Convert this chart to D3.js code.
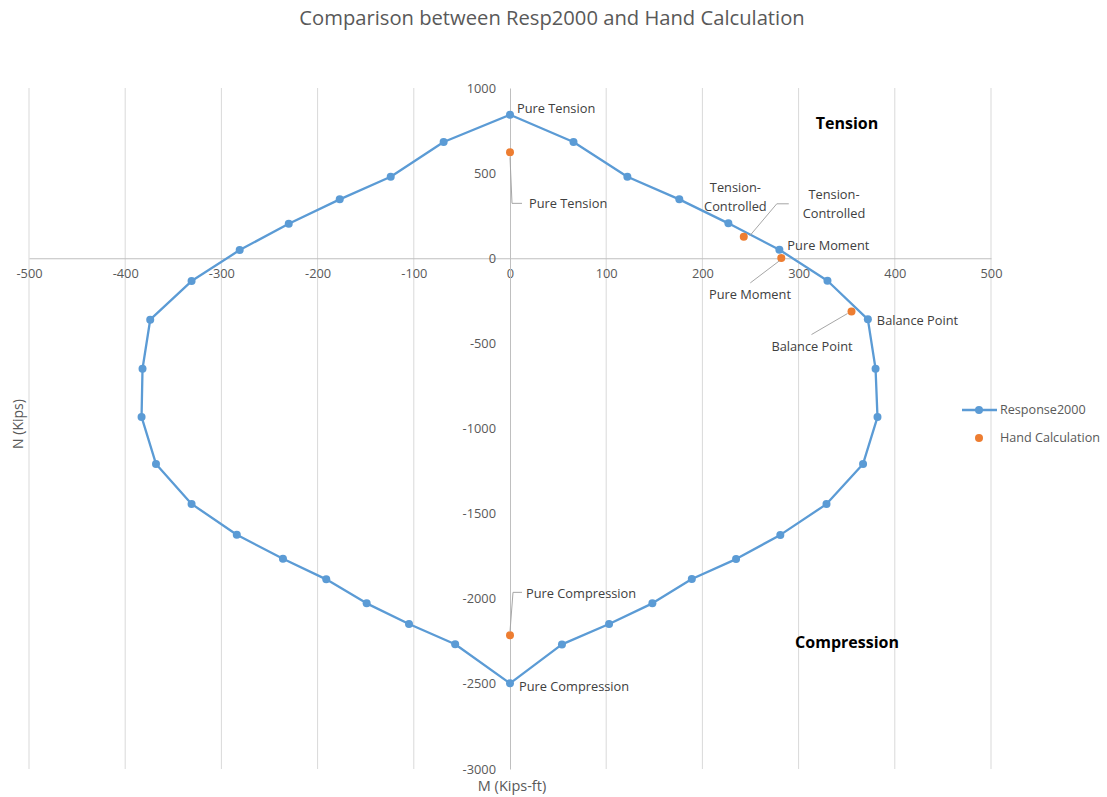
<!DOCTYPE html>
<html>
<head>
<meta charset="utf-8">
<script src="https://cdn.jsdelivr.net/npm/d3@7/dist/d3.min.js"></script>
<style>
  html, body { margin: 0; padding: 0; background: #ffffff; }
  svg { display: block; font-family: "Open Sans", "Noto Sans", sans-serif; }
</style>
</head>
<body>
<svg id="chart" width="1107" height="797"></svg>
<script>
// ---------------- DATA ----------------
const chartTitle = "Comparison between Resp2000 and Hand Calculation";
const xAxisTitle = "M (Kips-ft)";
const yAxisTitle = "N (Kips)";
const seriesNames = ["Response2000", "Hand Calculation"];

const xTicks = [-500, -400, -300, -200, -100, 0, 100, 200, 300, 400, 500];
const yTicks = [1000, 500, 0, -500, -1000, -1500, -2000, -2500, -3000];

// Response2000 interaction diagram (M, N), traced clockwise from pure tension
const respM = [0, 66, 122, 176, 227, 280, 330, 372, 380, 382, 367, 329, 281, 235, 189, 148, 103, 54, 0,
               -57, -105, -149, -191, -236, -284, -331, -368, -383, -382, -374, -331, -281, -230, -177, -124, -69, 0];
const respN = [843, 683, 479, 346, 205, 50, -132, -359, -649, -933, -1208, -1444, -1625, -1767, -1884, -2027, -2148, -2268, -2497,
               -2267, -2148, -2027, -1886, -1765, -1624, -1443, -1208, -932, -649, -361, -134, 48, 203, 346, 479, 683, 843];

// Hand calculation points
const handM = [0, 243, 282, 355, 0];
const handN = [622, 126, 2, -313, -2215];

// Data-label texts
const respLabelIndex = [0, 4, 5, 7, 18];
const respLabelText = [["Pure Tension"], ["Tension-", "Controlled"], ["Pure Moment"], ["Balance Point"], ["Pure Compression"]];
const handLabelText = [["Pure Tension"], ["Tension-", "Controlled"], ["Pure Moment"], ["Balance Point"], ["Pure Compression"]];

const regionLabels = ["Tension", "Compression"];

// ---------------- LAYOUT ----------------
const svg = d3.select("#chart");
const x = d3.scaleLinear().domain([-500, 500]).range([29, 991]);
const y = d3.scaleLinear().domain([-3000, 1000]).range([769, 88]);

const gridColor = "#d9d9d9";
const axisColor = "#bfbfbf";
const tickColor = "#595959";
const labelColor = "#404040";
const blue = "#5b9bd5";
const orange = "#ed7d31";
const fs = 12.8;

// Title
svg.append("text")
  .attr("x", 552).attr("y", 25)
  .attr("text-anchor", "middle")
  .attr("font-size", 20.2)
  .attr("fill", "#595959")
  .text(chartTitle);

// Vertical gridlines
svg.append("g").selectAll("line")
  .data(xTicks.filter(d => d !== 0))
  .join("line")
  .attr("x1", d => x(d)).attr("x2", d => x(d))
  .attr("y1", y(1000)).attr("y2", y(-3000))
  .attr("stroke", gridColor).attr("stroke-width", 1);

// X axis (crossing at N = 0)
const xAxis = svg.append("g")
  .attr("transform", `translate(0,${y(0)})`)
  .call(d3.axisBottom(x).tickValues(xTicks).tickSize(0).tickSizeOuter(0).tickPadding(11).tickFormat(d => String(d)));
xAxis.select(".domain").attr("stroke", axisColor);
xAxis.selectAll("text").attr("fill", tickColor).attr("font-size", fs).attr("font-family", "Open Sans");

// Y axis (crossing at M = 0)
const yAxis = svg.append("g")
  .attr("transform", `translate(${x(0)},0)`)
  .call(d3.axisLeft(y).tickValues(yTicks).tickSize(0).tickSizeOuter(0).tickPadding(14).tickFormat(d => String(d)));
yAxis.select(".domain").attr("stroke", axisColor);
yAxis.selectAll("text").attr("fill", tickColor).attr("font-size", fs).attr("font-family", "Open Sans");

// Axis titles
svg.append("text")
  .attr("x", 512).attr("y", 791)
  .attr("text-anchor", "middle")
  .attr("font-size", 14.5).attr("fill", tickColor)
  .text(xAxisTitle);
svg.append("text")
  .attr("transform", `translate(23,424) rotate(-90)`)
  .attr("text-anchor", "middle")
  .attr("font-size", 14).attr("fill", tickColor)
  .text(yAxisTitle);

// Response2000 line + markers
const respPts = respM.map((m, i) => [m, respN[i]]);
svg.append("path")
  .datum(respPts)
  .attr("d", d3.line().x(d => x(d[0])).y(d => y(d[1])))
  .attr("fill", "none").attr("stroke", blue).attr("stroke-width", 2.3)
  .attr("stroke-linejoin", "round");
svg.append("g").selectAll("circle")
  .data(respPts.slice(0, respPts.length - 1))
  .join("circle")
  .attr("cx", d => x(d[0])).attr("cy", d => y(d[1])).attr("r", 4)
  .attr("fill", blue);

// Hand calculation markers
const handPts = handM.map((m, i) => [m, handN[i]]);
svg.append("g").selectAll("circle")
  .data(handPts)
  .join("circle")
  .attr("cx", d => x(d[0])).attr("cy", d => y(d[1])).attr("r", 4)
  .attr("fill", orange);

// Label helper
function label(px, py, lines, anchor) {
  const t = svg.append("text")
    .attr("font-size", fs).attr("fill", labelColor)
    .attr("text-anchor", anchor);
  const lh = 19;
  const y0 = py - (lines.length - 1) * lh / 2;
  lines.forEach((ln, k) => {
    t.append("tspan").attr("x", px).attr("y", y0 + k * lh).attr("dy", "0.35em").text(ln);
  });
}

// Response2000 labels (offsets from their points)
const respLabelOffset = [[7, -6, "start"], [7, -26, "middle"], [8, -4, "start"], [9, 1, "start"], [9, 3, "start"]];
respLabelIndex.forEach((idx, k) => {
  const [dx, dy, a] = respLabelOffset[k];
  label(x(respM[idx]) + dx, y(respN[idx]) + dy, respLabelText[k], a);
});

// Hand calculation labels with leader lines
const handLabelPos = [[529, 204, "start"], [834, 204.5, "middle"], [750, 295, "middle"], [812, 347, "middle"], [526, 594, "start"]];
const handLeaders = [
  [[0, 5], [2, 51], [12, 51]],
  [[6, -1], [33, -33], [45, -33]],
  [[-2, 3], [-31, 25]],
  [[-4, 2], [-40, 23]],
  [[0, -4], [3, -43], [12, -43]]
];
handPts.forEach((p, k) => {
  const cx = x(p[0]), cy = y(p[1]);
  svg.append("polyline")
    .attr("points", handLeaders[k].map(o => `${cx + o[0]},${cy + o[1]}`).join(" "))
    .attr("fill", "none").attr("stroke", "#a6a6a6").attr("stroke-width", 1);
  const [lx, ly, a] = handLabelPos[k];
  label(lx, ly, handLabelText[k], a);
});

// Region labels
svg.append("text").attr("x", 847).attr("y", 123).attr("dy", "0.35em")
  .attr("text-anchor", "middle").attr("font-size", 16).attr("font-weight", "bold").attr("fill", "#000")
  .text(regionLabels[0]);
svg.append("text").attr("x", 847).attr("y", 642).attr("dy", "0.35em")
  .attr("text-anchor", "middle").attr("font-size", 16).attr("font-weight", "bold").attr("fill", "#000")
  .text(regionLabels[1]);

// Legend
const lg = svg.append("g");
lg.append("line").attr("x1", 962).attr("x2", 997).attr("y1", 410).attr("y2", 410)
  .attr("stroke", blue).attr("stroke-width", 2.3);
lg.append("circle").attr("cx", 979).attr("cy", 410).attr("r", 4).attr("fill", blue);
lg.append("text").attr("x", 1000).attr("y", 410).attr("dy", "0.35em")
  .attr("font-size", 12.6).attr("fill", tickColor).text(seriesNames[0]);
lg.append("circle").attr("cx", 979).attr("cy", 438).attr("r", 4).attr("fill", orange);
lg.append("text").attr("x", 1000).attr("y", 438).attr("dy", "0.35em")
  .attr("font-size", 12.6).attr("fill", tickColor).text(seriesNames[1]);
</script>
</body>
</html>
